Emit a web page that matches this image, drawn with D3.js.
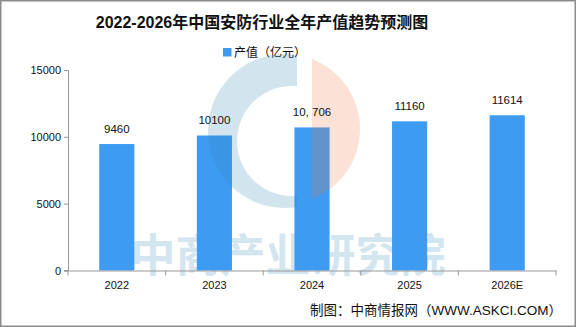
<!DOCTYPE html>
<html>
<head>
<meta charset="utf-8">
<script src="https://cdn.jsdelivr.net/npm/d3@7"></script>
<style>
    body { margin: 0; background: #fff; }
    svg { display: block; }
    text { font-family: "Liberation Sans", Arial, "Noto Sans CJK SC", sans-serif; }
</style>
</head>
<body>
<div id="chart"></div>
<script>
// data
let years = ['2022', '2023', '2024', '2025', '2026E']
let values = [9460, 10100, 10706, 11160, 11614]
let valueLabels = ['9460', '10100', '10, 706', '11160', '11614']
let yTicks = [0, 5000, 10000, 15000]

let svgWidth = 576
let svgHeight = 327
let padding = { 'left': 68, 'right': 20, 'top': 70, 'bottom': 56.5 }

let svg = d3.select('#chart').append('svg')
    .attr('width', svgWidth)
    .attr('height', svgHeight)

svg.append('rect')
    .attr('x', 0.75).attr('y', 0.75)
    .attr('width', svgWidth - 1.5).attr('height', svgHeight - 1.5)
    .attr('fill', '#fff')
    .attr('stroke', '#8c8c8c')
    .attr('stroke-width', 1.5)

// title + legend
svg.append('text')
    .attr('x', 262).attr('y', 28)
    .attr('text-anchor', 'middle')
    .attr('font-family', '"DejaVu Serif", "Noto Sans CJK SC", serif')
    .attr('font-weight', 'bold')
    .attr('font-size', 16)
    .attr('fill', '#111')
    .text('2022-2026年中国安防行业全年产值趋势预测图')

svg.append('rect')
    .attr('x', 223).attr('y', 48)
    .attr('width', 8.5).attr('height', 8.5)
    .attr('fill', '#3d9cf2')
svg.append('text')
    .attr('x', 234).attr('y', 56.5)
    .attr('font-family', '"Noto Sans CJK SC", sans-serif')
    .attr('font-size', 12)
    .attr('fill', '#111')
    .text('产值（亿元）')

let x = d3.scaleBand()
    .domain(years)
    .range([padding.left, svgWidth - padding.right])
let y = d3.scaleLinear()
    .domain([0, 15000])
    .range([svgHeight - padding.bottom, padding.top])

// watermark text, sits under the bars
svg.append('text')
    .attr('x', 288).attr('y', 272)
    .attr('text-anchor', 'middle')
    .attr('font-family', '"Noto Sans CJK SC", sans-serif')
    .attr('font-weight', 'bold')
    .attr('font-size', 45)
    .attr('fill', '#d3e5ef')
    .text('中商产业研究院')

let bw = x.bandwidth() * 0.36
svg.append('g')
    .selectAll('rect')
    .data(values)
    .enter()
    .append('rect')
    .attr('x', (d, i) => x(years[i]) + (x.bandwidth() - bw) / 2)
    .attr('y', d => y(d))
    .attr('width', bw)
    .attr('height', d => y(0) - y(d))
    .attr('fill', '#3d9cf2')

// logo watermark on top of bars
let cx = 285, cy = 131, R = 77
let defs = svg.append('defs')
defs.append('clipPath').attr('id', 'leftClip')
    .append('rect').attr('x', 0).attr('y', 0).attr('width', 297).attr('height', svgHeight)
defs.append('clipPath').attr('id', 'rightClip')
    .append('rect').attr('x', 312).attr('y', 0).attr('width', 200).attr('height', svgHeight)
let ring = d3.path()
ring.arc(cx, cy, R, 0, 2 * Math.PI)
ring.moveTo(cx + 7 + 55, cy + 10)
ring.arc(cx + 7, cy + 10, 55, 0, 2 * Math.PI, true)
svg.append('path')
    .attr('d', ring.toString())
    .attr('fill-rule', 'evenodd')
    .attr('fill', 'rgb(50,132,178)')
    .attr('fill-opacity', 0.22)
    .attr('clip-path', 'url(#leftClip)')
svg.append('circle')
    .attr('cx', cx).attr('cy', cy - 2).attr('r', R - 2)
    .attr('fill', 'rgb(237,119,69)')
    .attr('fill-opacity', 0.22)
    .attr('clip-path', 'url(#rightClip)')

// value labels
svg.append('g')
    .selectAll('text')
    .data(values)
    .enter()
    .append('text')
    .attr('x', (d, i) => x(years[i]) + x.bandwidth() / 2)
    .attr('y', d => y(d) - 11)
    .attr('text-anchor', 'middle')
    .attr('font-size', 11.5)
    .attr('fill', '#111')
    .text((d, i) => valueLabels[i])

// axes
let axis_y = d3.axisLeft(y).tickValues(yTicks).tickSize(4).tickFormat(d => d)
let gy = svg.append('g')
    .attr('transform', `translate(${padding.left}, 0)`)
    .call(axis_y)
gy.select('.domain').attr('stroke', '#999')
gy.selectAll('.tick line').attr('stroke', '#999')
gy.selectAll('.tick text').attr('font-size', 11).attr('fill', '#111')
    .attr('font-family', '"Liberation Sans", Arial, sans-serif')

let gx = svg.append('g')
    .attr('transform', `translate(0, ${y(0)})`)
    .call(d3.axisBottom(x).tickSize(0).tickSizeOuter(0))
gx.select('.domain').attr('stroke', '#999')
gx.selectAll('.tick text').attr('font-size', 11).attr('fill', '#111').attr('dy', '1.45em')
    .attr('font-family', '"Liberation Sans", Arial, sans-serif')
gx.append('line')
    .attr('x1', padding.left - 4).attr('x2', padding.left)
    .attr('stroke', '#999')
let bounds = years.map(d => x(d)).concat([x(years[years.length - 1]) + x.bandwidth()])
gx.selectAll('.bound')
    .data(bounds)
    .enter()
    .append('line')
    .attr('x1', d => d).attr('x2', d => d)
    .attr('y1', 0).attr('y2', 5)
    .attr('stroke', '#999')

svg.append('text')
    .attr('x', 562).attr('y', 315)
    .attr('text-anchor', 'end')
    .attr('font-family', '"Noto Sans CJK SC", sans-serif')
    .attr('font-size', 13.5)
    .attr('fill', '#111')
    .text('制图：中商情报网（WWW.ASKCI.COM）')
</script>
</body>
</html>
